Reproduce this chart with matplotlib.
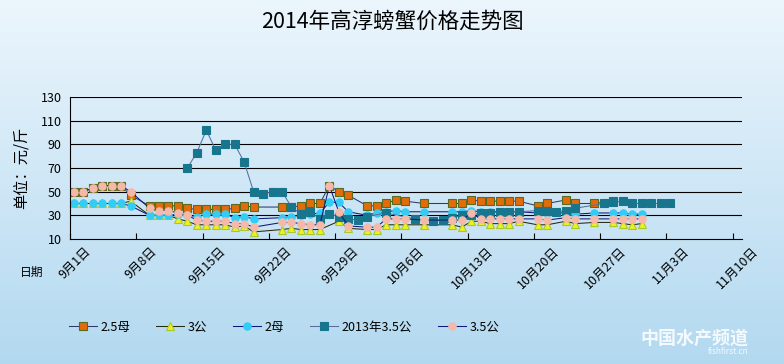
import matplotlib
matplotlib.use("Agg")
import matplotlib.pyplot as plt
import matplotlib.transforms as mtrans
import numpy as np

plt.rcParams['font.family'] = ['Noto Sans CJK SC', 'DejaVu Sans']

# day index: 0 = 9月1日
tick_labels = ['9月1日', '9月8日', '9月15日', '9月22日', '9月29日', '10月6日',
               '10月13日', '10月20日', '10月27日', '11月3日', '11月10日']
tick_days = [0, 7, 14, 21, 28, 35, 42, 49, 56, 63, 70]

d_25mu = [0, 1, 2, 3, 4, 5, 6, 8, 9, 10, 11, 12, 13, 14, 15, 16, 17, 18, 19,
          22, 23, 24, 25, 26, 27, 28, 29, 31, 32, 33, 34, 35, 37,
          40, 41, 42, 43, 44, 45, 46, 47, 49, 50, 52, 53, 55, 57]
v_25mu = [50, 50, 53, 55, 55, 55, 47, 38, 38, 38, 38, 36, 35, 35, 35, 35, 36, 38, 37,
          37, 37, 38, 40, 40, 55, 50, 47, 38, 38, 40, 43, 42, 40,
          40, 40, 43, 42, 42, 42, 42, 42, 38, 40, 43, 40, 40, 42]

d_3gong = [0, 1, 2, 3, 4, 5, 6, 8, 9, 10, 11, 12, 13, 14, 15, 16, 17, 18, 19,
           22, 23, 24, 25, 26, 28, 29, 31, 32, 33, 34, 35, 37,
           40, 41, 42, 43, 44, 45, 46, 47, 49, 50, 52, 53, 55, 57, 58, 59, 60]
v_3gong = [40, 40, 40, 40, 40, 40, 42, 30, 30, 30, 27, 25, 22, 22, 22, 22, 20, 21, 16,
           18, 19, 18, 18, 18, 25, 19, 18, 18, 22, 22, 22, 22,
           22, 20, 25, 25, 23, 23, 23, 25, 22, 22, 25, 23, 24, 24, 23, 22, 23]

d_2mu = [0, 1, 2, 3, 4, 5, 6, 8, 9, 10, 11, 12, 13, 14, 15, 16, 17, 18, 19,
         22, 23, 24, 25, 26, 27, 28, 29, 31, 32, 33, 34, 35, 37,
         40, 41, 42, 43, 44, 45, 46, 47, 49, 50, 52, 53, 55, 57, 58, 59, 60]
v_2mu = [40, 40, 40, 40, 40, 40, 38, 30, 30, 30, 31, 30, 29, 31, 31, 31, 28, 29, 27,
         28, 29, 30, 31, 32, 41, 41, 33, 30, 32, 33, 34, 33, 33,
         33, 33, 34, 33, 33, 33, 33, 33, 32, 32, 32, 31, 32, 32, 32, 31, 31]

d_2013 = [12, 13, 14, 15, 16, 17, 18, 19, 20, 21, 22, 23, 24, 25, 26, 27, 28, 29, 30, 31,
          33, 36, 38, 39, 40, 41, 42, 43, 44, 45, 46, 47, 49, 50, 51, 52, 53,
          56, 57, 58, 59, 60, 61, 62, 63]
v_2013 = [70, 83, 102, 85, 90, 90, 75, 50, 48, 50, 50, 37, 31, 33, 27, 31, 29, 27, 26, 29,
          32, 27, 25, 26, 28, 30, 30, 32, 32, 33, 33, 33, 34, 34, 33, 34, 36,
          40, 41, 42, 40, 40, 40, 40, 40]

d_35gong = [0, 1, 2, 3, 4, 5, 6, 8, 9, 10, 11, 12, 13, 14, 15, 16, 17, 18, 19,
            22, 23, 24, 25, 26, 27, 28, 29, 31, 32, 33, 34, 35, 37,
            40, 41, 42, 43, 44, 45, 46, 47, 49, 50, 52, 53, 55, 57, 58, 59, 60]
v_35gong = [50, 50, 53, 55, 55, 55, 50, 36, 34, 34, 32, 30, 26, 25, 25, 25, 23, 23, 20,
            24, 24, 23, 22, 22, 55, 33, 21, 20, 20, 27, 27, 27, 26,
            26, 26, 32, 27, 27, 27, 27, 27, 27, 26, 28, 27, 27, 27, 27, 27, 27]

series = [
    ('2.5母', d_25mu, v_25mu, dict(color='#2e3a6e', marker='s', mfc='#e36c0a', mec='#5a6a1e', ms=5.5)),
    ('3公', d_3gong, v_3gong, dict(color='#2a2a10', marker='^', mfc='#f0f020', mec='#a8c830', ms=5.8)),
    ('2母', d_2mu, v_2mu, dict(color='#10187a', marker='o', mfc='#33ccf5', mec='#33ccf5', ms=5.3)),
    ('2013年3.5公', d_2013, v_2013, dict(color='#5a6e9a', marker='s', mfc='#17768e', mec='#17768e', ms=5.5)),
    ('3.5公', d_35gong, v_35gong, dict(color='#10187a', marker='o', mfc='#f6b8a8', mec='#f6b8a8', ms=5.3)),
]

fig = plt.figure(figsize=(7.84, 3.64), dpi=100)

# background gradient
bg = fig.add_axes([0, 0, 1, 1], zorder=-10)
grad = np.linspace(0, 1, 256).reshape(-1, 1)
top = np.array([0.925, 0.963, 0.990])
bot = np.array([0.700, 0.850, 0.940])
img = top[None, None, :] * (1 - grad[:, :, None]) + bot[None, None, :] * grad[:, :, None]
bg.imshow(img, aspect='auto', extent=[0, 1, 0, 1])
bg.axis('off')

ax = fig.add_axes([70 / 784, 1 - 239 / 364, 672 / 784, 142 / 364])
ax.set_facecolor('none')

OFF = 0.4
for name, d, v, st in series:
    x = np.array(d) + OFF
    ax.plot(x, v, label=name, linewidth=0.75, markeredgewidth=0.8, **st)

ax.set_xlim(0, 71)
ax.set_ylim(10, 130)
ax.set_yticks(np.arange(10, 131, 20))
for yv in np.arange(30, 131, 20):
    ax.axhline(yv, color='black', linewidth=0.8, zorder=0.5)
ax.spines['top'].set_visible(False)
ax.spines['right'].set_visible(False)
ax.spines['left'].set_linewidth(0.8)
ax.spines['bottom'].set_linewidth(0.8)
ax.tick_params(axis='y', length=0, pad=6, labelsize=9)
ax.tick_params(axis='x', direction='in', length=4, width=0.8, pad=4, labelsize=9)
ax.set_xticks(tick_days)
ax.set_xticklabels(tick_labels, rotation=45, ha='center', va='top')
off = mtrans.ScaledTranslation(5 / 100, 0, fig.dpi_scale_trans)
for lab in ax.get_xticklabels():
    lab.set_transform(lab.get_transform() + off)

ax.set_ylabel('单位：元/斤', fontsize=11, labelpad=8)
fig.text(20 / 784, 1 - 272 / 364, '日期', fontsize=8.5, ha='left', va='center')

fig.suptitle('2014年高淳螃蟹价格走势图', x=0.5, y=1 - 22 / 364, va='center', fontsize=15.5)

handles, labels = ax.get_legend_handles_labels()
fig.legend(handles, labels, loc='center left', bbox_to_anchor=(64 / 784, 1 - 327 / 364),
           ncol=5, frameon=False, fontsize=9, handlelength=2.2, handletextpad=0.3,
           columnspacing=2.1, borderaxespad=0)

fig.text(748 / 784, 1 - 338 / 364, '中国水产频道', fontsize=13, color='white', alpha=0.85,
         ha='right', va='center', fontweight='bold')
fig.text(748 / 784, 1 - 352 / 364, 'fishfirst.cn', fontsize=6, color='white', alpha=0.85,
         ha='right', va='center')

fig.savefig('out.png', dpi=100)
